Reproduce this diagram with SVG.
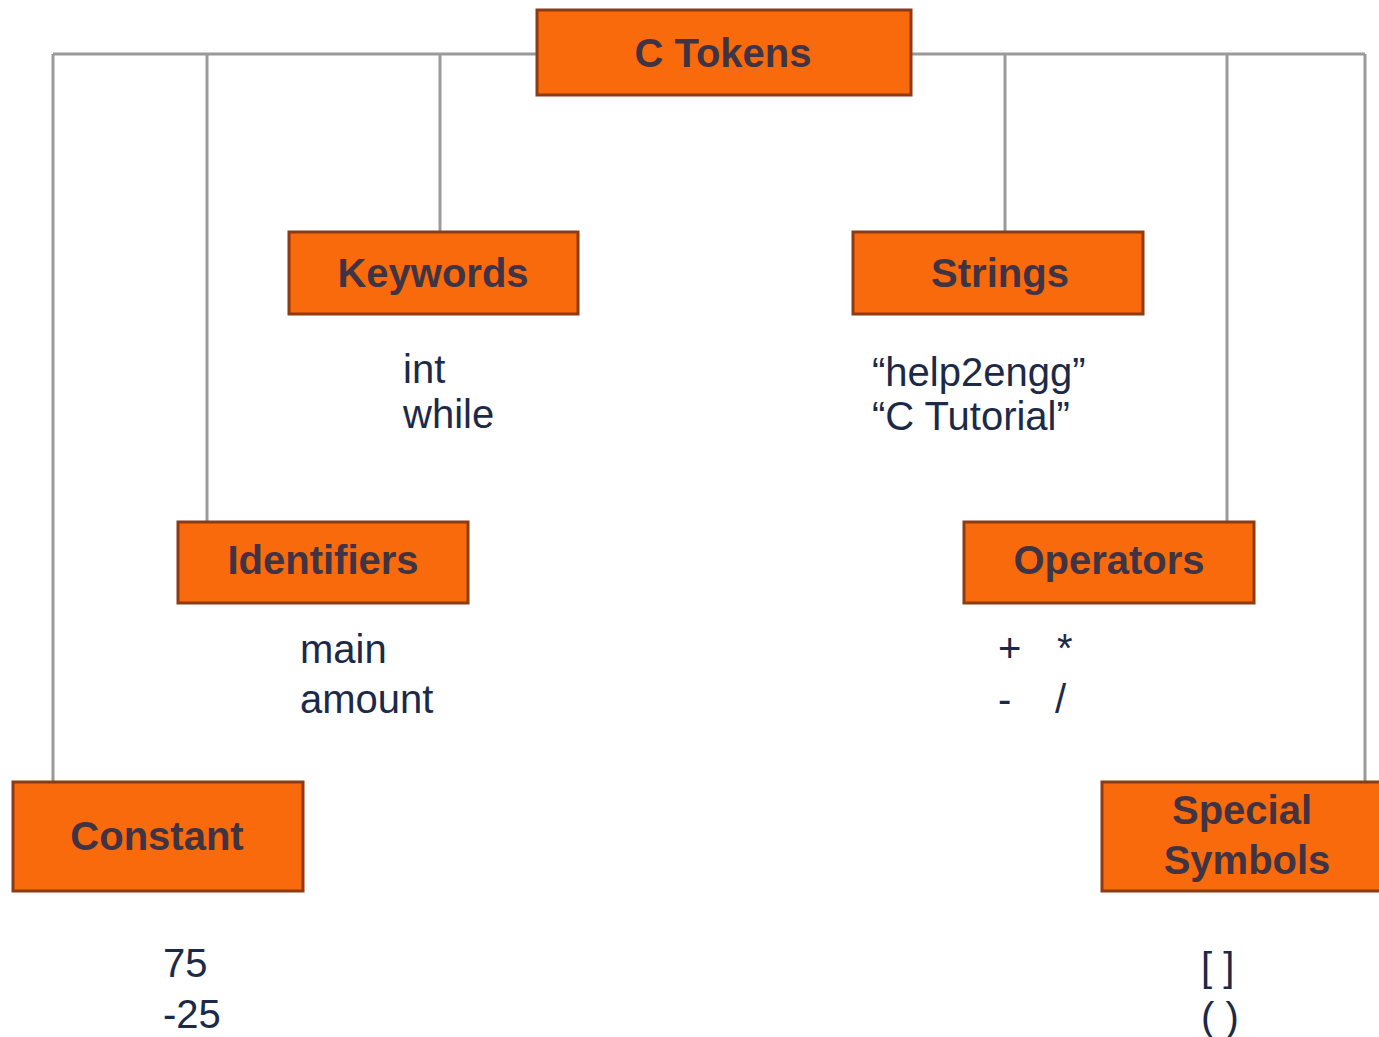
<svg xmlns="http://www.w3.org/2000/svg" width="1379" height="1037" viewBox="0 0 1379 1037">
<style>
.box{fill:#f96a0c;stroke:#8e3a12;stroke-width:3}
.lbl{font-family:"Liberation Sans",Arial,sans-serif;font-weight:bold;font-size:40px;fill:#3f3444;text-anchor:middle}
.txt{font-family:"Liberation Sans",Arial,sans-serif;font-size:40px;fill:#1c2a48}
.ln{stroke:#9a9a9a;stroke-width:3;fill:none}
</style>
<rect width="1379" height="1037" fill="#ffffff"/>
<g id="connectors">
<path class="ln" d="M53,54 H1365"/>
<path class="ln" d="M53,54 V782"/>
<path class="ln" d="M207,54 V522"/>
<path class="ln" d="M440,54 V232"/>
<path class="ln" d="M1005,54 V232"/>
<path class="ln" d="M1227,54 V522"/>
<path class="ln" d="M1365,54 V782"/>
</g>
<g id="c-tokens">
<rect class="box" x="537" y="10" width="374" height="85"/>
<text class="lbl" x="723" y="67">C Tokens</text>
</g>
<g id="keywords">
<rect class="box" x="289" y="232" width="289" height="82"/>
<text class="lbl" x="433" y="287">Keywords</text>
<text class="txt" x="403" y="383">int</text>
<text class="txt" x="403" y="428">while</text>
</g>
<g id="strings">
<rect class="box" x="853" y="232" width="290" height="82"/>
<text class="lbl" x="1000" y="287">Strings</text>
<text class="txt" x="872" y="386">“help2engg”</text>
<text class="txt" x="872" y="430">“C Tutorial”</text>
</g>
<g id="identifiers">
<rect class="box" x="178" y="522" width="290" height="81"/>
<text class="lbl" x="323" y="574">Identifiers</text>
<text class="txt" x="300" y="663">main</text>
<text class="txt" x="300" y="713">amount</text>
</g>
<g id="operators">
<rect class="box" x="964" y="522" width="290" height="81"/>
<text class="lbl" x="1109" y="574">Operators</text>
<text class="txt" x="998" y="662">+</text>
<text class="txt" x="1057" y="662">*</text>
<text class="txt" x="998" y="713">-</text>
<text class="txt" x="1055" y="713">/</text>
</g>
<g id="constant">
<rect class="box" x="13" y="782" width="290" height="109"/>
<text class="lbl" x="157" y="850">Constant</text>
<text class="txt" x="163" y="977">75</text>
<text class="txt" x="163" y="1028">-25</text>
</g>
<g id="special-symbols">
<rect class="box" x="1102" y="782" width="290" height="109"/>
<text class="lbl" x="1242" y="824">Special</text>
<text class="lbl" x="1247" y="874">Symbols</text>
<text class="txt" x="1201" y="981">[ ]</text>
<text class="txt" x="1201" y="1031">( )</text>
</g>
</svg>
